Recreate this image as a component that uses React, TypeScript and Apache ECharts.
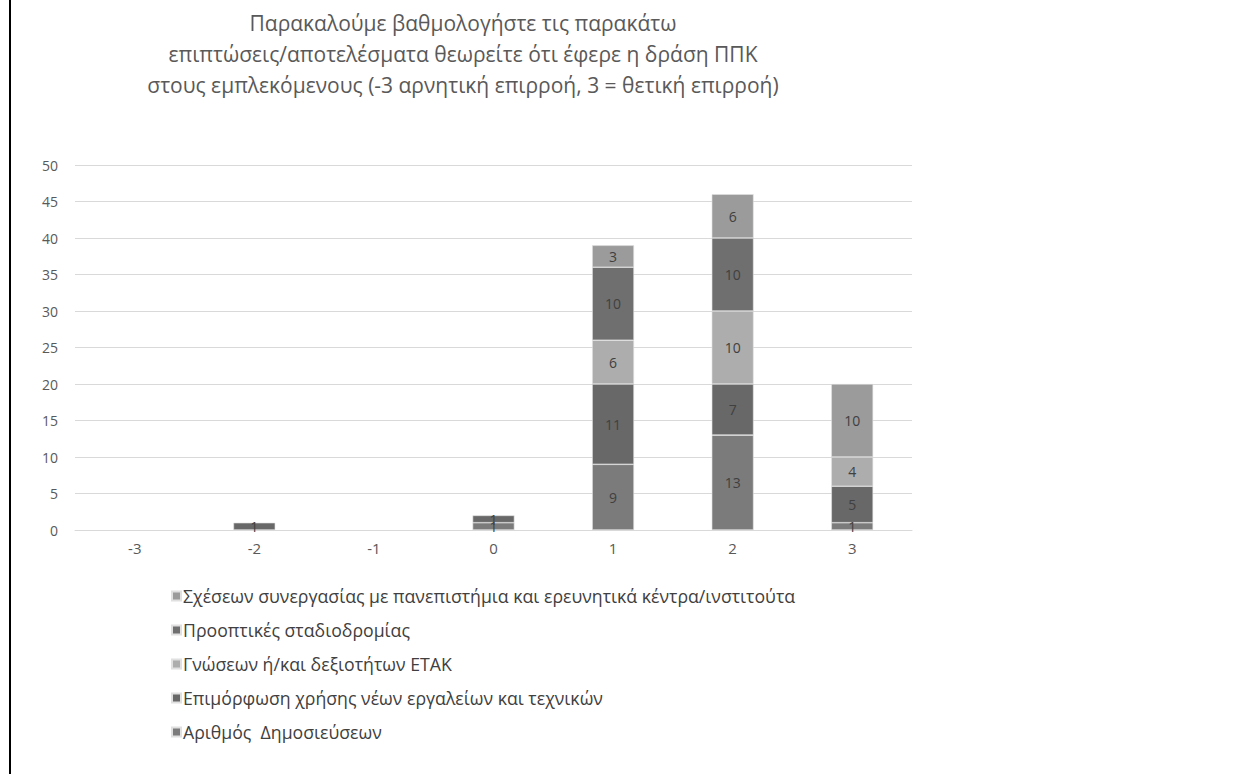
import React, { useEffect, useRef } from "react";
import * as echarts from "echarts";

const categories = ["-3", "-2", "-1", "0", "1", "2", "3"];
const seriesNames = [
  "Αριθμός  Δημοσιεύσεων",
  "Επιμόρφωση χρήσης νέων εργαλείων και τεχνικών",
  "Γνώσεων ή/και δεξιοτήτων ΕΤΑΚ",
  "Προοπτικές σταδιοδρομίας",
  "Σχέσεων συνεργασίας με πανεπιστήμια και ερευνητικά κέντρα/ινστιτούτα",
];
const dimosieuseis = [0, 0, 0, 1, 9, 13, 1];
const epimorfosi = [0, 1, 0, 1, 11, 7, 5];
const gnoseis = [0, 0, 0, 0, 6, 10, 4];
const prooptikes = [0, 0, 0, 0, 10, 10, 0];
const scheseis = [0, 0, 0, 0, 3, 6, 10];
const seriesValues = [dimosieuseis, epimorfosi, gnoseis, prooptikes, scheseis];
const seriesColors = ["#7b7b7b", "#686868", "#adadad", "#6f6f6f", "#9b9b9b"];
const titleText =
  "Παρακαλούμε βαθμολογήστε τις παρακάτω\nεπιπτώσεις/αποτελέσματα θεωρείτε ότι έφερε η δράση ΠΠΚ\nστους εμπλεκόμενους (-3 αρνητική επιρροή, 3 = θετική επιρροή)";

const FONT = "'Open Sans', sans-serif";

export default function App() {
  const ref = useRef<HTMLDivElement>(null);
  useEffect(() => {
    document.body.style.margin = "0";
    const chart = echarts.init(ref.current!, null, { renderer: "svg" });
    chart.setOption({
      animation: false,
      backgroundColor: "#ffffff",
      title: {
        text: titleText,
        left: 458,
        top: 2,
        textAlign: "center",
        textStyle: {
          fontFamily: FONT,
          fontSize: 21,
          fontWeight: "normal",
          color: "#595959",
          lineHeight: 31,
        },
      },
      graphic: [
        { type: "rect", shape: { x: 9, y: 0, width: 2, height: 774 }, style: { fill: "#000" } },
      ],
      grid: { left: 75, right: 335, top: 165, bottom: 244 },
      legend: {
        orient: "vertical",
        left: 166,
        top: 582,
        itemGap: 16,
        itemWidth: 9,
        itemHeight: 9,
        icon: "rect",
        data: [...seriesNames].reverse(),
        textStyle: { fontFamily: FONT, fontSize: 17.7, color: "#404040", padding: [0, 0, 0, -3] },
      },
      xAxis: {
        type: "category",
        data: categories,
        axisLine: { lineStyle: { color: "#d9d9d9" } },
        axisTick: { show: false },
        axisLabel: { fontFamily: FONT, fontSize: 15, color: "#595959", margin: 10 },
      },
      yAxis: {
        type: "value",
        min: 0,
        max: 50,
        interval: 5,
        axisLine: { show: false },
        axisTick: { show: false },
        splitLine: { lineStyle: { color: "#d9d9d9" } },
        axisLabel: { fontFamily: FONT, fontSize: 14, color: "#595959", margin: 17 },
      },
      series: seriesNames.map((name, i) => ({
        name,
        type: "bar",
        stack: "total",
        barWidth: "35%",
        data: seriesValues[i].map((v) => (v ? v : "-")),
        itemStyle: { color: seriesColors[i], borderColor: "#e0e0e0", borderWidth: 0.6 },
        label: {
          show: true,
          position: "inside",
          fontFamily: FONT,
          fontSize: 14,
          color: "#404040",
        },
      })),
    });
    return () => chart.dispose();
  }, []);
  return (
    <div
      ref={ref}
      style={{ position: "fixed", left: 0, top: 0, width: 1247, height: 774 }}
    />
  );
}
